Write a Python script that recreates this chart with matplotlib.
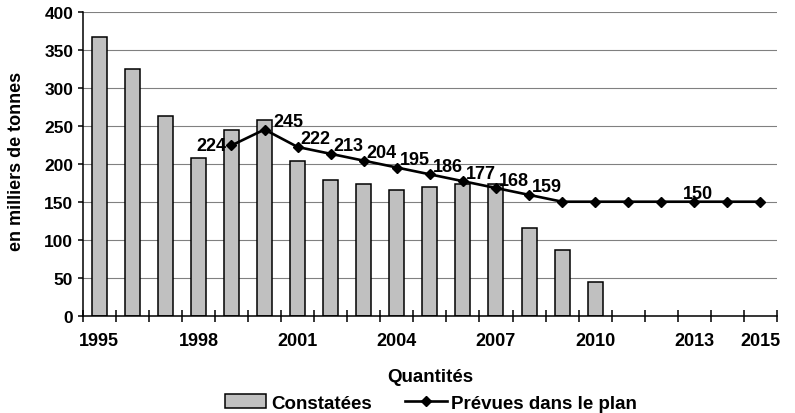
import matplotlib
matplotlib.use("Agg")
import matplotlib.pyplot as plt
from matplotlib.ticker import FixedLocator, NullFormatter

plt.rcParams['font.family'] = ['Liberation Sans', 'DejaVu Sans']
plt.rcParams['font.weight'] = 'bold'

years = list(range(1995, 2016))
observed_years = list(range(1995, 2011))
observed = [367, 325, 263, 207, 245, 258, 204, 178, 173, 166, 169, 173, 173, 116, 86, 44]
plan_years = list(range(1999, 2016))
plan = [224, 245, 222, 213, 204, 195, 186, 177, 168, 159, 150, 150, 150, 150, 150, 150, 150]
labeled_years = [1995, 1998, 2001, 2004, 2007, 2010, 2013, 2015]
plan_labeled = [1999, 2000, 2001, 2002, 2003, 2004, 2005, 2006, 2007, 2008, 2013]

idx = {y: i for i, y in enumerate(years)}

fig = plt.figure(figsize=(7.95, 4.14), dpi=100)
ax = fig.add_axes([82.7 / 795, 1 - 316.7 / 414, (777 - 82.7) / 795, (316.7 - 12.7) / 414])

x_obs = [idx[y] for y in observed_years]
bars = ax.bar(x_obs, observed, width=0.455, color='#C0C0C0', edgecolor='black',
              linewidth=1.1, zorder=2, label='Constatées')

x_plan = [idx[y] for y in plan_years]
line, = ax.plot(x_plan, plan, color='black', linewidth=1.9, marker='D', markersize=5,
                zorder=3, label='Prévues dans le plan')

# value labels on the plan line
px = 0.72  # points per pixel at 100 dpi
for y, v in zip(plan_years, plan):
    if y not in plan_labeled:
        continue
    xi = idx[y]
    if y == 1999:
        off, ha = (-5, 0), 'right'
    elif y == 2000:
        off, ha = (9, 8), 'left'
    elif y == 2013:
        off, ha = (4, 8), 'center'
    else:
        off, ha = (3, 8), 'left'
    ax.annotate(str(v), (xi, v), xytext=(off[0] * px, off[1] * px),
                textcoords='offset points', ha=ha, va='center',
                fontsize=13, fontweight='bold', zorder=4)

ax.set_xlim(-0.5, len(years) - 0.5)
ax.set_ylim(0, 400)
ax.set_yticks(range(0, 401, 50))
ax.yaxis.grid(True, color='#808080', linewidth=0.8, zorder=0)
ax.set_axisbelow(True)

for s in ('top', 'right'):
    ax.spines[s].set_visible(False)
ax.spines['left'].set_linewidth(1.1)
ax.spines['bottom'].set_linewidth(1.1)

ax.tick_params(axis='y', length=3.8, width=1.1, pad=3, labelsize=12.5)
ax.set_xticks([idx[y] for y in labeled_years])
ax.set_xticklabels([str(y) for y in labeled_years])
ax.xaxis.set_minor_locator(FixedLocator([i - 0.5 for i in range(len(years) + 1)]))
ax.xaxis.set_minor_formatter(NullFormatter())
ax.tick_params(axis='x', which='major', length=0, pad=12, labelsize=13)
ax.tick_params(axis='x', which='minor', length=8.5, width=1.1, direction='inout')
for lab in ax.get_xticklabels() + ax.get_yticklabels():
    lab.set_fontweight('bold')

fig.text(17 / 795, 1 - 161 / 414, 'en milliers de tonnes', rotation=90,
         ha='center', va='center', fontsize=13, fontweight='bold')

fig.text(430 / 795, 1 - 378 / 414, 'Quantités', ha='center', va='center',
         fontsize=13.5, fontweight='bold')

fig.legend(handles=[bars, line], loc='center', bbox_to_anchor=(431 / 795, 1 - 404 / 414),
           ncol=2, frameon=False, handlelength=2.2, handletextpad=0.25,
           columnspacing=1.8, borderpad=0, prop={'weight': 'bold', 'size': 13.5})

fig.savefig('out.png', dpi=100)
